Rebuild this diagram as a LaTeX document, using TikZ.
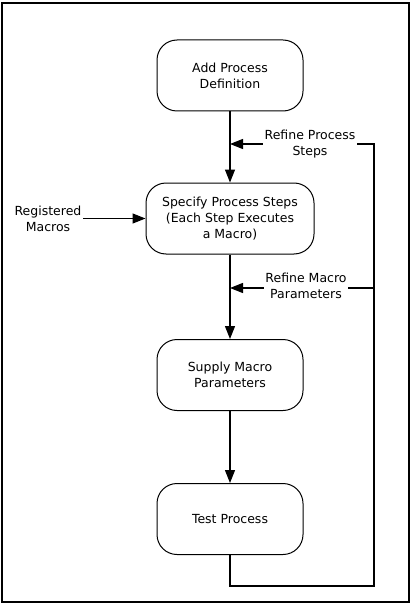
\documentclass[tikz,border=0pt]{standalone}
\usepackage{fontspec}
\setmainfont{DejaVu Sans}
\usetikzlibrary{arrows.meta}
\begin{document}
\begin{tikzpicture}[x=1pt,y=-1pt,
  proc/.style={draw,line width=1pt,rounded corners=20pt,minimum width=146pt,minimum height=71pt,align=center,inner sep=0pt,font=\fontsize{12.5}{16}\selectfont},
  lbl/.style={align=center,inner sep=1.5pt,font=\fontsize{12.5}{16}\selectfont},
  conn/.style={line width=1.2pt,-{Triangle[length=13pt,width=10pt]}},
  plain/.style={line width=1.2pt}]
\useasboundingbox (0,0) rectangle (411,604);
\draw[line width=2pt] (2,3) rectangle (409,602);
\node[proc] (a) at (230,75.5) {Add Process\\Definition};
\node[proc,minimum width=168pt] (b) at (230,218.5) {Specify Process Steps\\(Each Step Executes\\a Macro)};
\node[proc] (c) at (230,375) {Supply Macro\\Parameters};
\node[proc] (d) at (230,519) {Test Process};
\node[lbl] (reg) at (48,219) {Registered\\Macros};
\node[lbl] (rps) at (310,144) {Refine Process\\Steps};
\node[lbl] (rmp) at (306,286) {Refine Macro\\Parameters};
\coordinate (p1) at (230,144);
\coordinate (p2) at (230,288);
\coordinate (q0) at (230,586);
\coordinate (q1) at (374,586);
\coordinate (q2) at (374,144);
\coordinate (q3) at (374,288);
\draw[conn] (a) -- (b);
\draw[conn] (b) -- (c);
\draw[conn] (c) -- (d);
\draw[conn] (reg.east |- b.west) -- (b.west);
\draw[plain] (d.south) -- (q0) -- (q1) -- (q2) -- (rps.east |- q2);
\draw[conn] (rps.west |- p1) -- (p1);
\draw[plain] (q3) -- (rmp.east |- q3);
\draw[conn] (rmp.west |- p2) -- (p2);
\end{tikzpicture}
\end{document}
